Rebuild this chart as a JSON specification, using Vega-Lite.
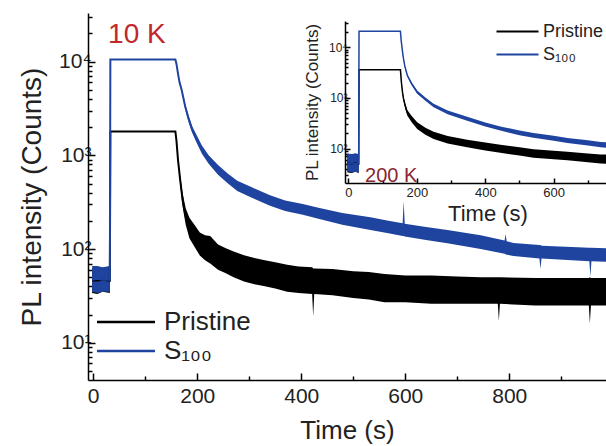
{
  "$schema": "https://vega.github.io/schema/vega-lite/v6.json",
  "width": 518,
  "height": 367,
  "autosize": "none",
  "padding": {"left": 88, "top": 13, "right": 0, "bottom": 66},
  "config": {
    "view": {"stroke": null},
    "font": "Liberation Sans",
    "axis": {
      "labelFont": "Liberation Sans", "titleFont": "Liberation Sans", "titleFontWeight": "normal",
      "labelColor": "#222", "titleColor": "#222", "domainColor": "#000", "tickColor": "#000",
      "domainWidth": 1.5, "tickWidth": 1.5, "grid": false, "zindex": 1, "labelFlush": false, "labelOverlap": false
    },
    "legend": {"labelFont": "Liberation Sans", "labelColor": "#222", "zindex": 2}
  },
  "datasets": {
    "main": [
      {"s":"Pristine","t":-2,"v":46,"lo":34,"hi":62},
      {"s":"Pristine","t":8,"v":46,"lo":33,"hi":64},
      {"s":"Pristine","t":18,"v":47,"lo":35,"hi":62},
      {"s":"Pristine","t":32,"v":46,"lo":34,"hi":63},
      {"s":"Pristine","t":33,"v":1800,"lo":1800,"hi":1800},
      {"s":"Pristine","t":158,"v":1800,"lo":1800,"hi":1800},
      {"s":"Pristine","t":160,"v":1450,"lo":1450,"hi":1450},
      {"s":"Pristine","t":163,"v":900,"lo":860,"hi":950},
      {"s":"Pristine","t":167,"v":560,"lo":500,"hi":620},
      {"s":"Pristine","t":172,"v":330,"lo":280,"hi":390},
      {"s":"Pristine","t":178,"v":220,"lo":180,"hi":270},
      {"s":"Pristine","t":185,"v":165,"lo":130,"hi":215},
      {"s":"Pristine","t":195,"v":135,"lo":105,"hi":180},
      {"s":"Pristine","t":205,"v":112,"lo":85,"hi":150},
      {"s":"Pristine","t":215,"v":100,"lo":76,"hi":140},
      {"s":"Pristine","t":225,"v":92,"lo":70,"hi":138},
      {"s":"Pristine","t":240,"v":82,"lo":60,"hi":112},
      {"s":"Pristine","t":255,"v":75,"lo":55,"hi":102},
      {"s":"Pristine","t":270,"v":68,"lo":50,"hi":94},
      {"s":"Pristine","t":290,"v":62,"lo":45,"hi":86},
      {"s":"Pristine","t":310,"v":58,"lo":42,"hi":80},
      {"s":"Pristine","t":330,"v":55,"lo":40,"hi":76},
      {"s":"Pristine","t":350,"v":52,"lo":38,"hi":72},
      {"s":"Pristine","t":373,"v":49,"lo":35,"hi":68},
      {"s":"Pristine","t":395,"v":47,"lo":34,"hi":65},
      {"s":"Pristine","t":421,"v":46,"lo":33,"hi":64},
      {"s":"Pristine","t":423,"v":45,"lo":19,"hi":62},
      {"s":"Pristine","t":425,"v":45,"lo":33,"hi":62},
      {"s":"Pristine","t":460,"v":44,"lo":32,"hi":61},
      {"s":"Pristine","t":500,"v":42,"lo":30,"hi":58},
      {"s":"Pristine","t":530,"v":41,"lo":29,"hi":57},
      {"s":"Pristine","t":560,"v":38,"lo":27,"hi":54},
      {"s":"Pristine","t":600,"v":37,"lo":27,"hi":52},
      {"s":"Pristine","t":650,"v":37,"lo":26,"hi":52},
      {"s":"Pristine","t":700,"v":36,"lo":26,"hi":51},
      {"s":"Pristine","t":745,"v":36,"lo":26,"hi":50},
      {"s":"Pristine","t":778,"v":36,"lo":26,"hi":50},
      {"s":"Pristine","t":780,"v":36,"lo":17,"hi":50},
      {"s":"Pristine","t":782,"v":36,"lo":26,"hi":50},
      {"s":"Pristine","t":850,"v":35,"lo":25,"hi":49},
      {"s":"Pristine","t":900,"v":35,"lo":25,"hi":49},
      {"s":"Pristine","t":953,"v":35,"lo":25,"hi":49},
      {"s":"Pristine","t":955,"v":35,"lo":16,"hi":50},
      {"s":"Pristine","t":957,"v":35,"lo":25,"hi":49},
      {"s":"Pristine","t":990,"v":35,"lo":25,"hi":49},
      {"s":"S100","t":-2,"v":47,"lo":35,"hi":66},
      {"s":"S100","t":8,"v":48,"lo":34,"hi":66},
      {"s":"S100","t":18,"v":47,"lo":35,"hi":64},
      {"s":"S100","t":32,"v":47,"lo":35,"hi":66},
      {"s":"S100","t":33,"v":10500,"lo":10500,"hi":10500},
      {"s":"S100","t":158,"v":10500,"lo":10500,"hi":10500},
      {"s":"S100","t":160,"v":9500,"lo":9500,"hi":9500},
      {"s":"S100","t":163,"v":7500,"lo":7300,"hi":7700},
      {"s":"S100","t":166,"v":6000,"lo":5800,"hi":6200},
      {"s":"S100","t":170,"v":5000,"lo":4800,"hi":5200},
      {"s":"S100","t":177,"v":3300,"lo":3100,"hi":3500},
      {"s":"S100","t":183,"v":2500,"lo":2300,"hi":2700},
      {"s":"S100","t":190,"v":1900,"lo":1750,"hi":2050},
      {"s":"S100","t":200,"v":1450,"lo":1320,"hi":1600},
      {"s":"S100","t":209,"v":1150,"lo":1040,"hi":1270},
      {"s":"S100","t":222,"v":900,"lo":810,"hi":1000},
      {"s":"S100","t":240,"v":700,"lo":620,"hi":790},
      {"s":"S100","t":258,"v":570,"lo":505,"hi":645},
      {"s":"S100","t":277,"v":470,"lo":415,"hi":535},
      {"s":"S100","t":305,"v":400,"lo":352,"hi":455},
      {"s":"S100","t":340,"v":330,"lo":290,"hi":375},
      {"s":"S100","t":369,"v":290,"lo":255,"hi":330},
      {"s":"S100","t":403,"v":265,"lo":232,"hi":302},
      {"s":"S100","t":433,"v":240,"lo":210,"hi":275},
      {"s":"S100","t":479,"v":210,"lo":182,"hi":242},
      {"s":"S100","t":533,"v":187,"lo":160,"hi":218},
      {"s":"S100","t":565,"v":172,"lo":148,"hi":202},
      {"s":"S100","t":595,"v":160,"lo":138,"hi":188},
      {"s":"S100","t":597,"v":160,"lo":138,"hi":325},
      {"s":"S100","t":599,"v":158,"lo":136,"hi":186},
      {"s":"S100","t":640,"v":146,"lo":125,"hi":172},
      {"s":"S100","t":681,"v":135,"lo":115,"hi":160},
      {"s":"S100","t":745,"v":118,"lo":100,"hi":140},
      {"s":"S100","t":791,"v":104,"lo":89,"hi":123},
      {"s":"S100","t":793,"v":103,"lo":88,"hi":145},
      {"s":"S100","t":795,"v":102,"lo":87,"hi":121},
      {"s":"S100","t":808,"v":98,"lo":84,"hi":116},
      {"s":"S100","t":858,"v":93,"lo":79,"hi":110},
      {"s":"S100","t":860,"v":93,"lo":61,"hi":110},
      {"s":"S100","t":862,"v":92,"lo":79,"hi":108},
      {"s":"S100","t":920,"v":89,"lo":76,"hi":105},
      {"s":"S100","t":954,"v":87,"lo":74,"hi":103},
      {"s":"S100","t":956,"v":87,"lo":51,"hi":103},
      {"s":"S100","t":958,"v":87,"lo":74,"hi":103},
      {"s":"S100","t":990,"v":86,"lo":73,"hi":102}
    ],
    "inset": [
      {"s":"Pristine","t":-3,"v":52,"lo":34,"hi":78},
      {"s":"Pristine","t":10,"v":50,"lo":33,"hi":76},
      {"s":"Pristine","t":20,"v":52,"lo":35,"hi":80},
      {"s":"Pristine","t":30,"v":50,"lo":33,"hi":76},
      {"s":"Pristine","t":31,"v":3600,"lo":3600,"hi":3600},
      {"s":"Pristine","t":152,"v":3600,"lo":3600,"hi":3600},
      {"s":"Pristine","t":155,"v":2000,"lo":1900,"hi":2100},
      {"s":"Pristine","t":158,"v":1300,"lo":1200,"hi":1400},
      {"s":"Pristine","t":161,"v":970,"lo":880,"hi":1060},
      {"s":"Pristine","t":166,"v":700,"lo":620,"hi":780},
      {"s":"Pristine","t":172,"v":510,"lo":450,"hi":580},
      {"s":"Pristine","t":185,"v":380,"lo":330,"hi":440},
      {"s":"Pristine","t":201,"v":285,"lo":245,"hi":330},
      {"s":"Pristine","t":225,"v":220,"lo":188,"hi":258},
      {"s":"Pristine","t":249,"v":182,"lo":155,"hi":215},
      {"s":"Pristine","t":290,"v":150,"lo":127,"hi":178},
      {"s":"Pristine","t":347,"v":126,"lo":106,"hi":150},
      {"s":"Pristine","t":400,"v":110,"lo":92,"hi":132},
      {"s":"Pristine","t":444,"v":100,"lo":83,"hi":120},
      {"s":"Pristine","t":500,"v":88,"lo":73,"hi":106},
      {"s":"Pristine","t":541,"v":80,"lo":66,"hi":97},
      {"s":"Pristine","t":600,"v":75,"lo":62,"hi":91},
      {"s":"Pristine","t":640,"v":72,"lo":59,"hi":87},
      {"s":"Pristine","t":700,"v":66,"lo":54,"hi":80},
      {"s":"Pristine","t":737,"v":63,"lo":51,"hi":77},
      {"s":"Pristine","t":765,"v":62,"lo":50,"hi":76},
      {"s":"S100","t":-3,"v":52,"lo":36,"hi":80},
      {"s":"S100","t":10,"v":50,"lo":34,"hi":78},
      {"s":"S100","t":20,"v":51,"lo":35,"hi":80},
      {"s":"S100","t":30,"v":50,"lo":34,"hi":78},
      {"s":"S100","t":31,"v":20700,"lo":20700,"hi":20700},
      {"s":"S100","t":152,"v":20700,"lo":20700,"hi":20700},
      {"s":"S100","t":154,"v":14000,"lo":14000,"hi":14000},
      {"s":"S100","t":157,"v":9500,"lo":9200,"hi":9800},
      {"s":"S100","t":160,"v":6500,"lo":6200,"hi":6800},
      {"s":"S100","t":165,"v":4200,"lo":4000,"hi":4400},
      {"s":"S100","t":172,"v":2800,"lo":2650,"hi":2950},
      {"s":"S100","t":185,"v":1900,"lo":1780,"hi":2020},
      {"s":"S100","t":201,"v":1300,"lo":1210,"hi":1400},
      {"s":"S100","t":225,"v":950,"lo":880,"hi":1020},
      {"s":"S100","t":249,"v":710,"lo":655,"hi":770},
      {"s":"S100","t":290,"v":520,"lo":478,"hi":565},
      {"s":"S100","t":347,"v":390,"lo":357,"hi":425},
      {"s":"S100","t":400,"v":300,"lo":274,"hi":328},
      {"s":"S100","t":444,"v":250,"lo":228,"hi":274},
      {"s":"S100","t":500,"v":205,"lo":184,"hi":228},
      {"s":"S100","t":541,"v":183,"lo":164,"hi":204},
      {"s":"S100","t":600,"v":160,"lo":143,"hi":179},
      {"s":"S100","t":640,"v":145,"lo":129,"hi":163},
      {"s":"S100","t":700,"v":130,"lo":115,"hi":147},
      {"s":"S100","t":737,"v":120,"lo":106,"hi":136},
      {"s":"S100","t":765,"v":117,"lo":103,"hi":133}
    ],
    "mainNote": [{"note": "10 K", "t": 84, "v": 19000}],
    "insetNote": [{"note": "200 K", "t": 125, "v": 29}]
  },
  "layer": [
    {
      "encoding": {
        "x": {"field": "t", "type": "quantitative",
          "scale": {"domain": [-10, 986], "nice": false, "zero": false},
          "axis": {"orient": "bottom", "values": [0,100,200,300,400,500,600,700,800,900],
            "labelExpr": "datum.value % 200 == 0 ? datum.label : ''",
            "tickSize": {"condition": {"test": "datum.value % 200 == 0", "value": -7}, "value": -4},
            "labelFontSize": 21, "labelPadding": 12, "title": "Time (s)", "titleFontSize": 26, "titlePadding": 8}},
        "y": {"field": "v", "type": "quantitative",
          "scale": {"type": "log", "domain": [4, 33000], "nice": false},
          "axis": {"orient": "left", "values": [5,6,7,8,9,10,20,30,40,50,60,70,80,90,100,200,300,400,500,600,700,800,900,1000,2000,3000,4000,5000,6000,7000,8000,9000,10000,20000,30000],
            "labelExpr": "datum.value == 10 ? '10¹' : datum.value == 100 ? '10²' : datum.value == 1000 ? '10³' : datum.value == 10000 ? '10⁴' : ''",
            "tickSize": {"condition": {"test": "datum.value == 10 || datum.value == 100 || datum.value == 1000 || datum.value == 10000", "value": -7}, "value": -4},
            "labelFontSize": 21, "labelPadding": 4, "title": "PL intensity (Counts)", "titleFontSize": 28, "titlePadding": 12}}
      },
      "layer": [
        {
          "data": {"name": "main"},
          "mark": {"type": "area"},
          "encoding": {
            "y": {"field": "lo", "type": "quantitative"},
            "y2": {"field": "hi"},
            "color": {"field": "s", "type": "nominal", "scale": {"domain": ["Pristine", "S100"], "range": ["#000000", "#1f44a0"]},
              "legend": {"orient": "none", "legendX": 22, "legendY": 293, "title": null,
                "symbolType": "M-2,0H2", "symbolSize": 841, "symbolStrokeWidth": 2.5,
                "labelFontSize": 26, "labelOffset": 22, "rowPadding": 0, "labelLimit": 300,
                "labelExpr": "datum.label == 'S100' ? 'S₁₀₀' : datum.label"}}
          }
        },
        {
          "data": {"name": "main"},
          "mark": {"type": "line", "strokeWidth": 2},
          "encoding": {
            "color": {"field": "s", "type": "nominal",
              "scale": {"domain": ["Pristine", "S100"], "range": ["#000000", "#1f44a0"]},
              "legend": {"orient": "none", "legendX": 22, "legendY": 293, "title": null,
                "symbolType": "M-2,0H2", "symbolSize": 841, "symbolStrokeWidth": 2.5,
                "labelFontSize": 26, "labelOffset": 22, "rowPadding": 0, "labelLimit": 300,
                "labelExpr": "datum.label == 'S100' ? 'S₁₀₀' : datum.label"}}
          }
        },
        {
          "data": {"values": [{}]},
          "mark": {"type": "rule", "color": "#000", "strokeWidth": 1.5},
          "encoding": {"y": {"datum": 33000}}
        },
        {
          "data": {"name": "mainNote"},
          "mark": {"type": "text", "fontSize": 28, "color": "#c0282c", "align": "center", "baseline": "middle"},
          "encoding": {"text": {"field": "note", "type": "nominal"}}
        }
      ]
    },
    {
      "encoding": {
        "x": {"field": "t", "type": "quantitative",
          "scale": {"domain": [-10, 823], "range": [257, 542], "nice": false, "zero": false},
          "axis": {"orient": "bottom", "offset": -197, "values": [0,100,200,300,400,500,600,700],
            "labelExpr": "datum.value % 200 == 0 ? datum.label : ''",
            "tickSize": {"condition": {"test": "datum.value % 200 == 0", "value": -5}, "value": -3},
            "labelFontSize": 13, "labelPadding": 8, "title": "Time (s)", "titleFontSize": 22, "titlePadding": 2}},
        "y": {"field": "v", "type": "quantitative",
          "scale": {"type": "log", "domain": [21, 33000], "range": [170, 8], "nice": false},
          "axis": {"orient": "left", "offset": -257, "values": [30,40,50,60,70,80,90,100,200,300,400,500,600,700,800,900,1000,2000,3000,4000,5000,6000,7000,8000,9000,10000,20000,30000],
            "labelExpr": "datum.value == 100 ? '10²' : datum.value == 1000 ? '10³' : datum.value == 10000 ? '10⁴' : ''",
            "tickSize": {"condition": {"test": "datum.value == 100 || datum.value == 1000 || datum.value == 10000", "value": -5}, "value": -3},
            "labelFontSize": 12, "labelPadding": 3, "title": "PL intensity (Counts)", "titleFontSize": 17, "titlePadding": 7}}
      },
      "layer": [
        {
          "data": {"values": [{}]},
          "mark": {"type": "rect", "fill": "#ffffff"},
          "encoding": {"x": {"datum": -10}, "x2": {"datum": 823}, "y": {"datum": 21}, "y2": {"datum": 33000}}
        },
        {
          "data": {"name": "inset"},
          "mark": {"type": "area"},
          "encoding": {
            "y": {"field": "lo", "type": "quantitative"},
            "y2": {"field": "hi"},
            "color": {"field": "s", "type": "nominal", "scale": {"domain": ["Pristine", "S100"], "range": ["#000000", "#1f44a0"]},
              "legend": {"orient": "none", "legendX": 418, "legendY": 7, "title": null,
                "symbolType": "M-2,0H2", "symbolSize": 441, "symbolStrokeWidth": 2,
                "labelFontSize": 18, "labelOffset": 14, "rowPadding": 2, "labelLimit": 300,
                "labelExpr": "datum.label == 'S100' ? 'S₁₀₀' : datum.label"}}
          }
        },
        {
          "data": {"name": "inset"},
          "mark": {"type": "line", "strokeWidth": 1.5},
          "encoding": {
            "color": {"field": "s", "type": "nominal",
              "scale": {"domain": ["Pristine", "S100"], "range": ["#000000", "#1f44a0"]},
              "legend": {"orient": "none", "legendX": 418, "legendY": 7, "title": null,
                "symbolType": "M-2,0H2", "symbolSize": 441, "symbolStrokeWidth": 2,
                "labelFontSize": 18, "labelOffset": 14, "rowPadding": 2, "labelLimit": 300,
                "labelExpr": "datum.label == 'S100' ? 'S₁₀₀' : datum.label"}}
          }
        },
        {
          "data": {"values": [{}]},
          "mark": {"type": "rule", "color": "#000", "strokeWidth": 1.5},
          "encoding": {"x": {"datum": -10}, "x2": {"datum": 823}, "y": {"datum": 33000}}
        },
        {
          "data": {"name": "insetNote"},
          "mark": {"type": "text", "fontSize": 20, "color": "#8a2630", "align": "center", "baseline": "middle"},
          "encoding": {"text": {"field": "note", "type": "nominal"}}
        }
      ]
    }
  ],
  "resolve": {"scale": {"x": "independent", "y": "independent", "color": "independent"}}
}
